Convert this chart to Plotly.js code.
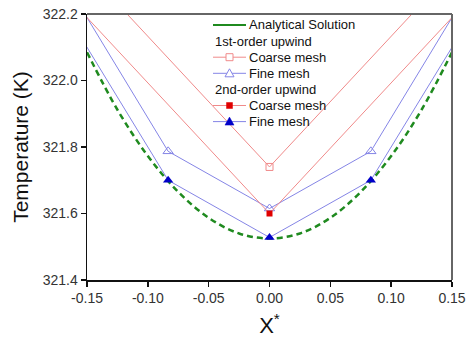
<!DOCTYPE html>
<html>
<head>
<meta charset="utf-8">
<script src="https://cdn.plot.ly/plotly-3.0.1.min.js"></script>
<style>
  html, body { margin: 0; padding: 0; background: #fff; }
  #chart { width: 467px; height: 338px; }
</style>
</head>
<body>
<div id="chart"></div>
<script>
// Temperature profiles across the channel, X* in [-0.15, 0.15]

// Analytical solution (sampled profile)
const xAnalytical = [-0.15, -0.125, -0.1, -0.075, -0.05, -0.025, 0, 0.025, 0.05, 0.075, 0.1, 0.125, 0.15];
const tAnalytical = [322.085, 321.912, 321.773, 321.665, 321.587, 321.540, 321.525, 321.540, 321.587, 321.665, 321.773, 321.912, 322.085];

// Coarse mesh nodes (spacing 1/6)
const xCoarse = [-0.1667, 0, 0.1667];
const tCoarse1st = [322.395, 321.74, 322.395];
const tCoarse2nd = [322.255, 321.60, 322.255];

// Fine mesh nodes (spacing 1/12)
const xFine = [-0.1667, -0.0833, 0, 0.0833, 0.1667];
const tFine1st = [322.29, 321.787, 321.615, 321.787, 322.29];
const tFine2nd = [322.20, 321.700, 321.528, 321.700, 322.20];

// Axis ticks
const xTickVals = [-0.15, -0.10, -0.05, 0, 0.05, 0.10, 0.15];
const xTickText = ['-0.15', '-0.10', '-0.05', '0.00', '0.05', '0.10', '0.15'];
const yTickVals = [321.4, 321.6, 321.8, 322.0, 322.2];
const yTickText = ['321.4', '321.6', '321.8', '322.0', '322.2'];

// Legend rows: label, and key style
const legendLabels = ['Analytical Solution', '1st-order upwind', 'Coarse mesh', 'Fine mesh',
                      '2nd-order upwind', 'Coarse mesh', 'Fine mesh'];
const legendKeys = ['green', null, 'sqOpen', 'triOpen', null, 'sqFill', 'triFill'];

const FONT = 'Liberation Sans, Arial, sans-serif';
const green = '#1f8a1f';
const lightRed = '#f08a8a';
const red = '#e00000';
const lightBlue = '#8585e6';
const blue = '#0000c8';

const traces = [
  {
    x: xAnalytical, y: tAnalytical, type: 'scatter', mode: 'lines',
    line: {color: green, width: 2.5, dash: '6px,4px', shape: 'spline'},
    name: 'Analytical Solution', hoverinfo: 'skip'
  },
  {
    x: xCoarse, y: tCoarse1st, type: 'scatter', mode: 'lines+markers',
    name: '1st-order Coarse mesh',
    line: {color: lightRed, width: 1},
    marker: {symbol: 'square-open', size: 7, color: lightRed, line: {width: 1}}
  },
  {
    x: xFine, y: tFine1st, type: 'scatter', mode: 'lines+markers',
    name: '1st-order Fine mesh',
    line: {color: lightBlue, width: 1},
    marker: {symbol: 'triangle-up-open', size: 9, color: lightBlue, line: {width: 1}}
  },
  {
    x: xCoarse, y: tCoarse2nd, type: 'scatter', mode: 'lines+markers',
    name: '2nd-order Coarse mesh',
    line: {color: lightRed, width: 1},
    marker: {symbol: 'square', size: 6, color: red}
  },
  {
    x: xFine, y: tFine2nd, type: 'scatter', mode: 'lines+markers',
    name: '2nd-order Fine mesh',
    line: {color: lightBlue, width: 1},
    marker: {symbol: 'triangle-up', size: 9, color: blue}
  }
];

// Compact legend box drawn with shapes and annotations
const plotL = 87, plotT = 14, plotW = 365, plotH = 266;
const px = v => (v - plotL) / plotW;
const py = v => (plotT + plotH - v) / plotH;
const keyX0 = 213, keyX1 = 246, keyMid = 229.5, textX = 247;
const rowY0 = 25, rowStep = 16.1;

const shapes = [
  // top and right frame edges
  {type: 'line', xref: 'paper', yref: 'paper', x0: 0, x1: 1, y0: 1, y1: 1, line: {color: '#666', width: 2}},
  {type: 'line', xref: 'paper', yref: 'paper', x0: 1, x1: 1, y0: 0, y1: 1, line: {color: '#666', width: 2}}
];
const annotations = [];

legendLabels.forEach((label, i) => {
  const y = rowY0 + i * rowStep;
  const key = legendKeys[i];
  annotations.push({
    xref: 'paper', yref: 'paper', x: px(key ? textX : keyX0), y: py(y),
    xanchor: 'left', yanchor: 'middle', showarrow: false, text: label,
    font: {family: FONT, size: 13, color: '#111'}
  });
  if (!key) return;
  const lineColor = key === 'green' ? green : (key.startsWith('sq') ? lightRed : lightBlue);
  shapes.push({
    type: 'line', xref: 'paper', yref: 'paper', x0: px(keyX0), x1: px(keyX1), y0: py(y), y1: py(y),
    line: {color: lineColor, width: key === 'green' ? 2 : 1}
  });
  const base = {xref: 'paper', yref: 'paper', xsizemode: 'pixel', ysizemode: 'pixel',
                xanchor: px(keyMid), yanchor: py(y)};
  if (key === 'sqOpen') {
    shapes.push(Object.assign({type: 'rect', x0: -3.5, x1: 3.5, y0: -3.5, y1: 3.5,
      fillcolor: '#fff', line: {color: lightRed, width: 1}}, base));
  } else if (key === 'sqFill') {
    shapes.push(Object.assign({type: 'rect', x0: -3, x1: 3, y0: -3, y1: 3,
      fillcolor: red, line: {color: red, width: 0.5}}, base));
  } else if (key === 'triOpen') {
    shapes.push(Object.assign({type: 'path', path: 'M -4.5 -3.5 L 4.5 -3.5 L 0 4.5 Z',
      fillcolor: '#fff', line: {color: lightBlue, width: 1}}, base));
  } else if (key === 'triFill') {
    shapes.push(Object.assign({type: 'path', path: 'M -4.5 -3.5 L 4.5 -3.5 L 0 4.5 Z',
      fillcolor: blue, line: {color: blue, width: 0.5}}, base));
  }
});

const layout = {
  width: 467, height: 338,
  margin: {l: plotL, r: 467 - plotL - plotW, t: plotT, b: 338 - plotT - plotH, pad: 0},
  paper_bgcolor: '#fff', plot_bgcolor: '#fff',
  font: {family: FONT, color: '#222'},
  showlegend: false,
  xaxis: {
    range: [-0.15, 0.15], tickvals: xTickVals, ticktext: xTickText,
    ticks: 'outside', ticklen: 5, tickwidth: 1.5, tickcolor: '#111',
    showline: true, linecolor: '#111', linewidth: 1.5, mirror: false,
    showgrid: false, zeroline: false,
    tickfont: {family: FONT, size: 14, color: '#333'},
    title: {text: 'X<sup>*</sup>', font: {family: FONT, size: 22, color: '#111'}, standoff: 14}
  },
  yaxis: {
    range: [321.4, 322.2], tickvals: yTickVals, ticktext: yTickText,
    ticks: 'outside', ticklen: 5, tickwidth: 1.5, tickcolor: '#111',
    showline: true, linecolor: '#111', linewidth: 1.5, mirror: false,
    showgrid: false, zeroline: false,
    tickfont: {family: FONT, size: 14, color: '#333'},
    title: {text: 'Temperature (K)', font: {family: FONT, size: 21, color: '#111'}, standoff: 8}
  },
  shapes: shapes,
  annotations: annotations
};

Plotly.newPlot('chart', traces, layout, {displayModeBar: false, staticPlot: true});
</script>
</body>
</html>
